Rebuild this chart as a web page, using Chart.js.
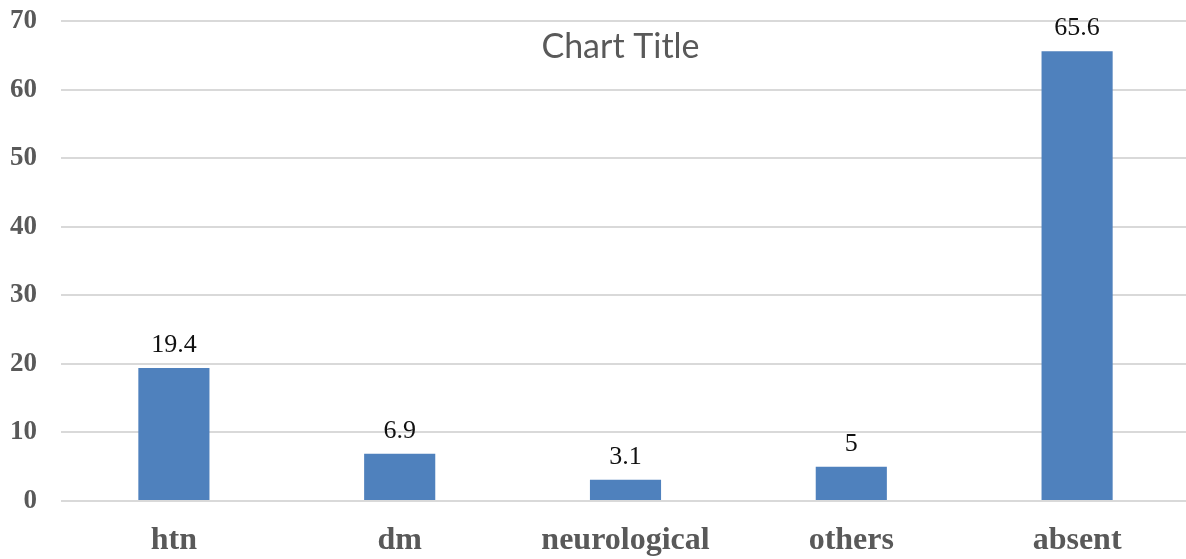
<!DOCTYPE html>
<html>
<head>
<meta charset="utf-8">
<script src="https://cdn.jsdelivr.net/npm/chart.js@4.4.1/dist/chart.umd.min.js"></script>
<style>
  html, body { margin: 0; padding: 0; background: #fff; overflow: hidden; }
  #wrap { width: 1190px; height: 559px; position: relative; }
</style>
</head>
<body>
<div id="wrap"><canvas id="myChart"></canvas></div>
<script>
// data
var categorias = ['htn', 'dm', 'neurological', 'others', 'absent'];
var valores = [19.4, 6.9, 3.1, 5, 65.6];
var yMin = 0;
var yMax = 70;
var yPasso = 10;
var tituloGrafico = 'Chart Title';

// values above the bars
const rotulosPlugin = {
    id: 'rotulos',
    afterDatasetsDraw(chart) {
        const ctx = chart.ctx;
        const meta = chart.getDatasetMeta(0);
        ctx.save();
        ctx.font = '26px "Liberation Serif"';
        ctx.fillStyle = '#111';
        ctx.textAlign = 'center';
        ctx.textBaseline = 'alphabetic';
        meta.data.forEach((bar, i) => {
            ctx.fillText(String(chart.data.datasets[0].data[i]), bar.x, bar.y - 16);
        });
        ctx.restore();
    }
};

// title sits inside the plot area, like the excel one
const tituloPlugin = {
    id: 'tituloDentro',
    afterDraw(chart) {
        const ctx = chart.ctx;
        const area = chart.chartArea;
        ctx.save();
        ctx.font = '34px Lato';
        ctx.fillStyle = '#595959';
        ctx.textAlign = 'center';
        ctx.textBaseline = 'alphabetic';
        ctx.fillText(tituloGrafico, (area.left + area.right) / 2 - 5, area.top + 37);
        ctx.restore();
    }
};

var grafico = new Chart(document.getElementById('myChart'), {
    type: 'bar',
    data: {
        labels: categorias,
        datasets: [{
            data: valores,
            backgroundColor: '#4f81bd',
            borderWidth: 0,
            categoryPercentage: 1,
            barPercentage: 0.315
        }]
    },
    options: {
        responsive: true,
        maintainAspectRatio: false,
        animation: false,
        layout: { padding: 0 },
        plugins: {
            legend: { display: false },
            tooltip: { enabled: false }
        },
        scales: {
            x: {
                grid: { display: false, drawTicks: false },
                border: { display: false },
                ticks: {
                    color: '#595959',
                    padding: 21,
                    font: { family: '"Liberation Serif"', size: 32, weight: 'bold' }
                },
                afterFit: function(scale) { scale.height = 58; }
            },
            y: {
                min: yMin,
                max: yMax,
                grid: { color: '#d9d9d9', lineWidth: 2, drawTicks: false },
                border: { display: false },
                ticks: {
                    stepSize: yPasso,
                    color: '#595959',
                    padding: 24,
                    font: { family: '"Liberation Serif"', size: 27, weight: 'bold' }
                },
                afterFit: function(scale) {
                    scale.width = 61;
                    scale.paddingTop = 21;
                    scale.paddingBottom = 0;
                }
            }
        }
    },
    plugins: [rotulosPlugin, tituloPlugin]
});
</script>
</body>
</html>
